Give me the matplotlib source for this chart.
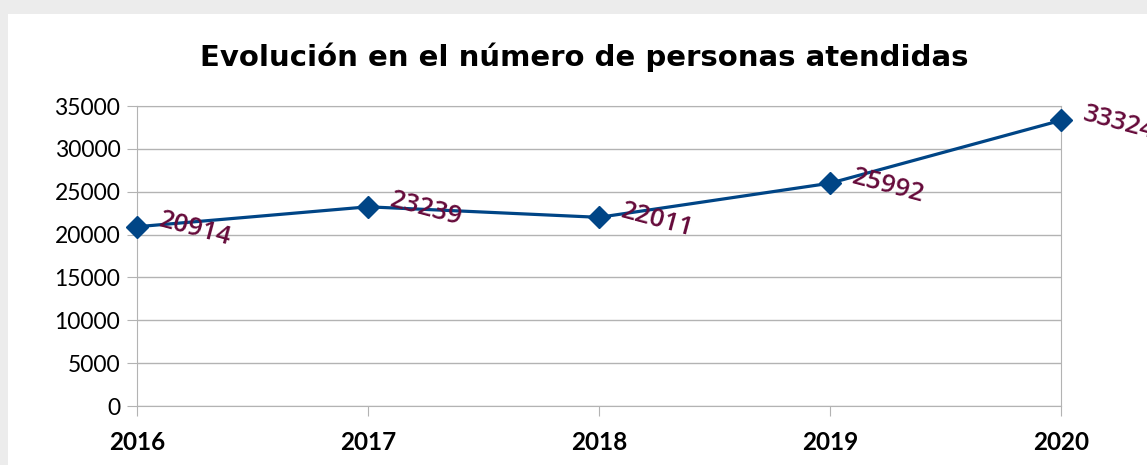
import matplotlib.pyplot as plt
import matplotlib.patches as patches

years = ['2016', '2017', '2018', '2019', '2020']
personas = [20914, 23239, 22011, 25992, 33324]
yticks = [0, 5000, 10000, 15000, 20000, 25000, 30000, 35000]

plt.rcParams['font.family'] = ['Lato', 'DejaVu Sans']

fig = plt.figure(figsize=(11.47, 4.65), dpi=100)
fig.patch.set_facecolor('#ececec')
# white card behind the chart
fig.patches.append(patches.Rectangle((8 / 1147, 0), 1, 1 - 14 / 465,
                                     transform=fig.transFigure,
                                     facecolor='white', edgecolor='none', zorder=-5))

ax = fig.add_axes([137 / 1147, 1 - 406 / 465, (1061 - 137) / 1147, 300 / 465])
ax.set_facecolor('white')

x = list(range(len(years)))
ax.plot(x, personas, color='#004586', linewidth=2.3, marker='D',
        markersize=11, zorder=3, clip_on=False)

for xi, v in zip(x, personas):
    ax.annotate(str(v), (xi, v), xytext=(16, 5), textcoords='offset points',
                ha='left', va='center', rotation=-15, rotation_mode='anchor',
                fontsize=18.5, fontweight='semibold', color='#650a3a',
                family='Open Sans', annotation_clip=False)

ax.set_xlim(0, len(years) - 1)
ax.set_ylim(0, 35000)
ax.set_xticks(x)
ax.set_xticklabels(years, fontsize=17.5, fontweight='bold')
ax.set_yticks(yticks)
ax.set_yticklabels([str(t) for t in yticks], fontsize=16.5)
ax.yaxis.grid(True, color='#b3b3b3', linewidth=1)
ax.set_axisbelow(True)
for s in ax.spines.values():
    s.set_color('#b3b3b3')
ax.tick_params(axis='both', colors='#b3b3b3', labelcolor='black', length=7)
ax.tick_params(axis='x', pad=11)
ax.tick_params(axis='y', pad=5)

fig.text(584 / 1147, 1 - 57 / 465, 'Evolución en el número de personas atendidas',
         ha='center', va='center', fontsize=21, fontweight='bold',
         family='DejaVu Sans')

fig.savefig('out.png', dpi=100, facecolor=fig.get_facecolor())
